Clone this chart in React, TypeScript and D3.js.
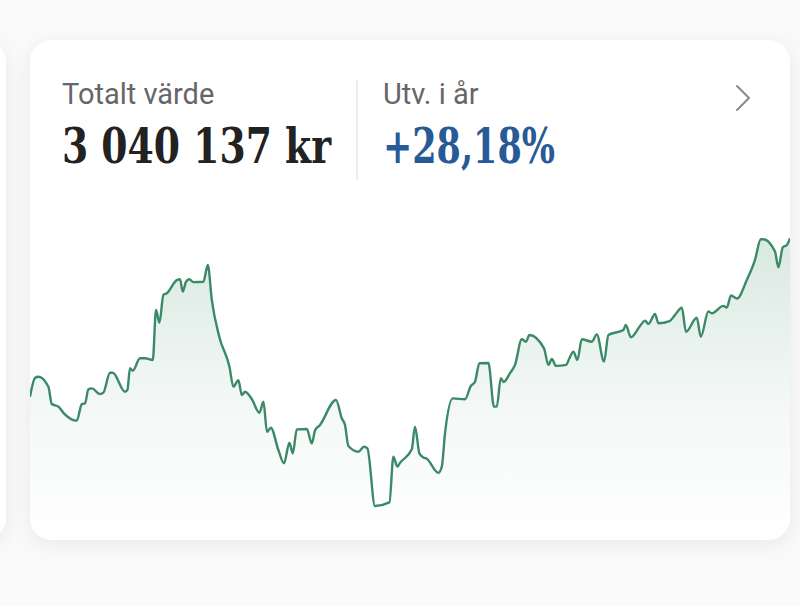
import React from "react";
import * as d3 from "d3";

// Year-to-date portfolio value (thousand kr) by day index
const days = [
  0, 2.5, 4.2, 9.2, 10.9, 14.2, 16.7, 23.4, 25.9, 27.5, 29.2, 30.9, 35, 36.7, 40, 41.4, 47.5, 48.7, 50, 51.4,
  55, 57.5, 61.4, 63, 64.7, 66.7, 68.4, 73.4, 75, 76.4, 78, 79.7, 81.7, 86.7, 88.9, 90.9, 94.7, 99.7, 101.7, 104.2,
  105.9, 107.5, 110.9, 114.7, 116.7, 118.5, 120.4, 124.2, 127, 129.7, 131.4, 133.4, 138.4, 140.9, 142.5, 145, 153, 155.9, 157.5, 159.2,
  164.2, 167, 168.7, 172.5, 179.7, 181.7, 183.7, 185, 190.9, 192.5, 194.7, 196.7, 198.4, 204.2, 205.9, 207.5, 211.4, 217.5, 220.4, 222.5,
  224.7, 229.2, 232, 233.4, 235.4, 236.8, 240, 242.5, 245.9, 248, 249.7, 257, 259.2, 260.9, 263, 268, 269.7, 271.7, 273.7, 275.9,
  280.9, 283.4, 287, 289.2, 296.7, 297.9, 300.4, 305, 307.5, 309.2, 312.5, 314.2, 319.8, 322.5, 325.9, 328, 333.4, 335.4, 339.2, 340.9,
  346.7, 348.4, 350.5, 353.5, 358.4, 362.5, 365.4, 366.7, 372.5, 374.2, 376.4, 378.4, 380,
];
const values = [
  2372, 2451, 2456, 2414, 2341, 2330, 2304, 2271, 2341, 2344, 2403, 2407, 2383, 2389, 2473, 2473, 2393, 2400, 2492, 2482,
  2534, 2534, 2527, 2738, 2684, 2801, 2808, 2864, 2867, 2815, 2857, 2867, 2855, 2857, 2928, 2780, 2623, 2499, 2414, 2442,
  2379, 2393, 2362, 2304, 2351, 2224, 2241, 2147, 2091, 2178, 2133, 2234, 2236, 2175, 2229, 2253, 2358, 2281, 2253, 2164,
  2140, 2161, 2154, 1911, 1926, 2119, 2077, 2093, 2150, 2245, 2133, 2116, 2110, 2051, 2077, 2217, 2365, 2361, 2417, 2435,
  2513, 2514, 2330, 2330, 2450, 2434, 2471, 2506, 2614, 2604, 2632, 2576, 2506, 2531, 2502, 2506, 2534, 2562, 2527, 2614,
  2604, 2635, 2520, 2632, 2653, 2675, 2623, 2670, 2693, 2679, 2721, 2682, 2691, 2717, 2747, 2646, 2705, 2625, 2731, 2724,
  2755, 2748, 2799, 2786, 2864, 2949, 3036, 3036, 2984, 2918, 3002, 3012, 3040,
];

const titleLabel = "Totalt värde";
const totalValue = "3 040 137 kr";
const changeLabel = "Utv. i år";
const changeValue = "+28,18%";

export default function App() {
  const W = 800;
  const H = 606;
  const card = { x: 30, y: 40, w: 760, h: 500, r: 22 };

  const x = d3.scaleLinear().domain([0, 380]).range([card.x, card.x + card.w]);
  const ext = d3.extent(values) as [number, number];
  const y = d3.scaleLinear().domain(ext).range([506, 238.3]);

  const pts = days.map((d, i) => [d, values[i]] as [number, number]);
  const line = d3
    .line<[number, number]>()
    .x((d) => x(d[0]))
    .y((d) => y(d[1]))
    .curve(d3.curveMonotoneX);
  const area = d3
    .area<[number, number]>()
    .x((d) => x(d[0]))
    .y0(card.y + card.h)
    .y1((d) => y(d[1]))
    .curve(d3.curveMonotoneX);

  const sans = "Roboto, 'Noto Sans', sans-serif";
  const slab = "'DejaVu Serif', serif";

  return (
    <div style={{ position: "absolute", left: 0, top: 0, width: W, height: H }}>
      <svg width={W} height={H} viewBox={`0 0 ${W} ${H}`} style={{ display: "block" }}>
        <defs>
          <filter id="shadow" x="-20%" y="-20%" width="140%" height="140%">
            <feDropShadow dx="0" dy="4" stdDeviation="10" floodColor="#000" floodOpacity="0.07" />
          </filter>
          <clipPath id="cardClip">
            <rect x={card.x} y={card.y} width={card.w} height={card.h} rx={card.r} />
          </clipPath>
          <linearGradient id="areaGrad" gradientUnits="userSpaceOnUse" x1="0" y1="238" x2="0" y2="540">
            <stop offset="0%" stopColor="#3a8a67" stopOpacity="0.19" />
            <stop offset="55%" stopColor="#3a8a67" stopOpacity="0.06" />
            <stop offset="100%" stopColor="#3a8a67" stopOpacity="0.0" />
          </linearGradient>
        </defs>
        <rect x={0} y={0} width={W} height={H} fill="#fafafa" />
        {/* neighbouring card */}
        <rect x={-754} y={card.y} width={760} height={card.h} rx={card.r} fill="#ffffff" filter="url(#shadow)" />
        {/* main card */}
        <rect x={card.x} y={card.y} width={card.w} height={card.h} rx={card.r} fill="#ffffff" filter="url(#shadow)" />
        <g clipPath="url(#cardClip)">
          <path d={area(pts) || ""} fill="url(#areaGrad)" />
          <path d={line(pts) || ""} fill="none" stroke="#3a8a67" strokeWidth={2.4} strokeLinejoin="round" />
        </g>

        <text x={62} y={104} fontFamily={sans} fontWeight={400} fontSize={29} fill="#666666">
          {titleLabel}
        </text>
        <text
          x={62}
          y={163}
          fontFamily={slab}
          fontWeight={700}
          fontSize={48}
          fill="#222222"
          textLength={269}
          lengthAdjust="spacingAndGlyphs"
        >
          {totalValue}
        </text>
        <line x1={357} x2={357} y1={80} y2={180} stroke="#e6e6e6" strokeWidth={1.5} />
        <text x={383} y={104} fontFamily={sans} fontWeight={400} fontSize={29} fill="#666666">
          {changeLabel}
        </text>
        <text
          x={383}
          y={163}
          fontFamily={slab}
          fontWeight={700}
          fontSize={48}
          fill="#275a96"
          textLength={172}
          lengthAdjust="spacingAndGlyphs"
        >
          {changeValue}
        </text>
        <polyline
          points="737,86 749,98 737,110"
          fill="none"
          stroke="#8a8a8a"
          strokeWidth={2}
          strokeLinecap="round"
          strokeLinejoin="round"
        />
      </svg>
    </div>
  );
}
